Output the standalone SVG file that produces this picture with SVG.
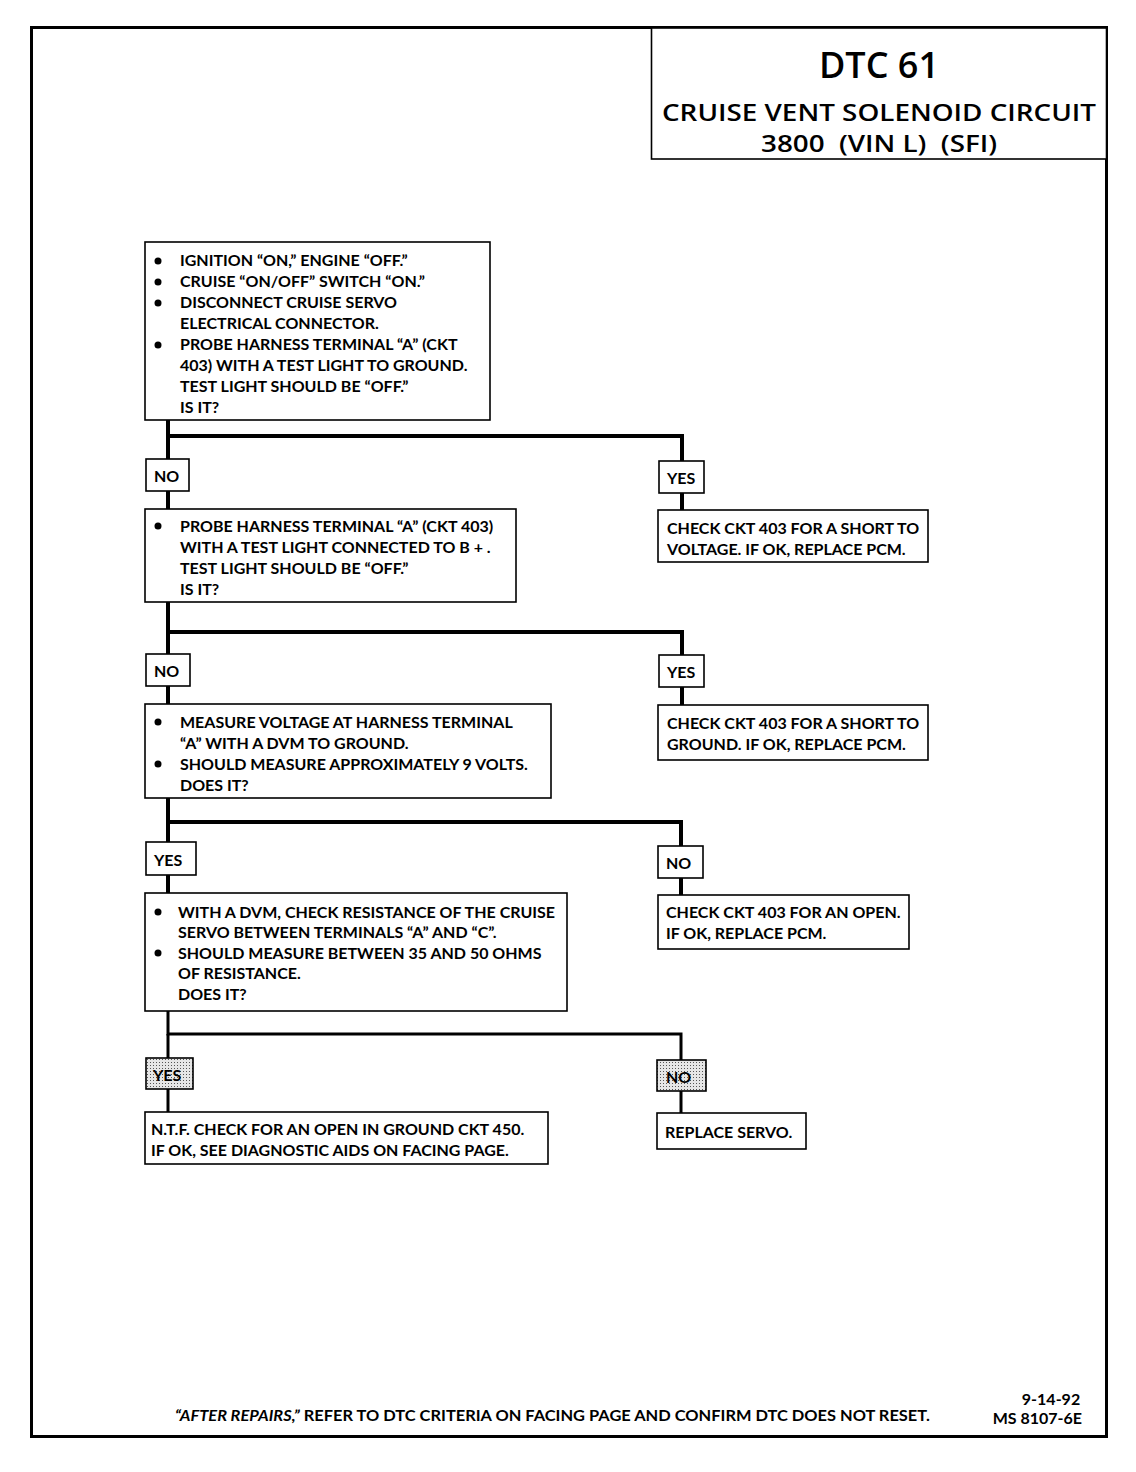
<svg xmlns="http://www.w3.org/2000/svg" width="1136" height="1472" viewBox="0 0 1136 1472" xml:space="preserve">
<style>
.box{fill:#fff;stroke:#000;stroke-width:1.6}
.lbl{fill:#fff;stroke:#000;stroke-width:1.6}
.sh{fill:url(#dots);stroke:#000;stroke-width:1.6}
.t{font-family:Lato,"Liberation Sans",sans-serif;font-weight:bold;font-size:16px;fill:#000;white-space:pre}
.tt{font-family:"Open Sans","Liberation Sans",sans-serif;font-weight:600;fill:#000;text-anchor:middle;white-space:pre}
.c{fill:none;stroke:#000;stroke-width:4}
.c2{fill:none;stroke:#000;stroke-width:3}
</style>
<defs>
<pattern id="dots" width="3" height="3" patternUnits="userSpaceOnUse">
<rect width="3" height="3" fill="#e6e6e6"/>
<rect width="1" height="1" fill="#555"/>
</pattern>
</defs>
<rect width="1136" height="1472" fill="#fff"/>
<rect x="31.5" y="27.5" width="1075" height="1409" fill="none" stroke="#000" stroke-width="3"/>

<g id="title">
<rect x="651.5" y="28" width="455" height="131" fill="#fff" stroke="#000" stroke-width="1.6"/>
<text class="tt" x="879" y="78" font-size="36" font-weight="bold">DTC 61</text>
<text class="tt" x="879" y="121" font-size="24" textLength="434" lengthAdjust="spacingAndGlyphs">CRUISE VENT SOLENOID CIRCUIT</text>
<text class="tt" x="879" y="152" font-size="24" textLength="236" lengthAdjust="spacingAndGlyphs">3800  (VIN L)  (SFI)</text>
</g>

<g id="connectors">
<polyline class="c" points="168,420 168,436 682,436 682,461"/>
<line class="c" x1="168" y1="436" x2="168" y2="459"/>
<line class="c" x1="168" y1="491" x2="168" y2="509"/>
<line class="c" x1="682" y1="493" x2="682" y2="510"/>
<polyline class="c" points="168,602 168,632 682,632 682,655"/>
<line class="c" x1="168" y1="632" x2="168" y2="654"/>
<line class="c" x1="168" y1="686" x2="168" y2="704"/>
<line class="c" x1="682" y1="687" x2="682" y2="705"/>
<polyline class="c" points="168,798 168,822 681,822 681,846"/>
<line class="c" x1="168" y1="822" x2="168" y2="842"/>
<line class="c" x1="168" y1="875" x2="168" y2="893"/>
<line class="c" x1="681" y1="878" x2="681" y2="895"/>
<polyline class="c2" points="168,1011 168,1034 681,1034 681,1060"/>
<line class="c2" x1="168" y1="1034" x2="168" y2="1058"/>
<line class="c2" x1="168" y1="1089" x2="168" y2="1112"/>
<line class="c2" x1="681" y1="1091" x2="681" y2="1113"/>
</g>

<g id="step1">
<rect class="box" x="145" y="242" width="345" height="178"/>
<g class="t">
<circle cx="158" cy="261" r="3.5"/><text x="180" y="266">IGNITION “ON,” ENGINE “OFF.”</text>
<circle cx="158" cy="282" r="3.5"/><text x="180" y="287">CRUISE “ON/OFF” SWITCH “ON.”</text>
<circle cx="158" cy="303" r="3.5"/><text x="180" y="308">DISCONNECT CRUISE SERVO</text>
<text x="180" y="329">ELECTRICAL CONNECTOR.</text>
<circle cx="158" cy="345" r="3.5"/><text x="180" y="350">PROBE HARNESS TERMINAL “A” (CKT</text>
<text x="180" y="371">403) WITH A TEST LIGHT TO GROUND.</text>
<text x="180" y="392">TEST LIGHT SHOULD BE “OFF.”</text>
<text x="180" y="413">IS IT?</text>
</g>
</g>

<g id="no1"><rect class="lbl" x="146" y="459" width="43" height="32"/><text class="t" x="154" y="482">NO</text></g>
<g id="yes1"><rect class="lbl" x="659" y="461" width="45" height="32"/><text class="t" x="667" y="484">YES</text></g>

<g id="step2">
<rect class="box" x="145" y="509" width="371" height="93"/>
<g class="t">
<circle cx="158" cy="526" r="3.5"/><text x="180" y="532">PROBE HARNESS TERMINAL “A” (CKT 403)</text>
<text x="180" y="553">WITH A TEST  LIGHT CONNECTED TO B + .</text>
<text x="180" y="574">TEST LIGHT SHOULD BE “OFF.”</text>
<text x="180" y="595">IS IT?</text>
</g>
</g>

<g id="result1">
<rect class="box" x="658" y="510" width="270" height="52"/>
<g class="t"><text x="667" y="534">CHECK CKT 403 FOR A SHORT TO</text>
<text x="667" y="555">VOLTAGE.  IF OK, REPLACE PCM.</text></g>
</g>

<g id="no2"><rect class="lbl" x="146" y="654" width="44" height="32"/><text class="t" x="154" y="677">NO</text></g>
<g id="yes2"><rect class="lbl" x="659" y="655" width="45" height="32"/><text class="t" x="667" y="678">YES</text></g>

<g id="step3">
<rect class="box" x="145" y="704" width="406" height="94"/>
<g class="t">
<circle cx="158" cy="722" r="3.5"/><text x="180" y="728">MEASURE VOLTAGE AT HARNESS TERMINAL</text>
<text x="180" y="749">“A” WITH A DVM TO GROUND.</text>
<circle cx="158" cy="764" r="3.5"/><text x="180" y="770">SHOULD MEASURE APPROXIMATELY 9 VOLTS.</text>
<text x="180" y="791">DOES IT?</text>
</g>
</g>

<g id="result2">
<rect class="box" x="658" y="705" width="270" height="55"/>
<g class="t"><text x="667" y="729">CHECK CKT 403 FOR A SHORT TO</text>
<text x="667" y="750">GROUND.  IF OK, REPLACE PCM.</text></g>
</g>

<g id="yes3"><rect class="lbl" x="146" y="842" width="50" height="33"/><text class="t" x="154" y="866">YES</text></g>
<g id="no3"><rect class="lbl" x="658" y="846" width="45" height="32"/><text class="t" x="666" y="869">NO</text></g>

<g id="step4">
<rect class="box" x="145" y="893" width="422" height="118"/>
<g class="t">
<circle cx="158" cy="912" r="3.5"/><text x="178" y="918">WITH A DVM, CHECK RESISTANCE OF THE CRUISE</text>
<text x="178" y="938">SERVO BETWEEN TERMINALS “A” AND “C”.</text>
<circle cx="158" cy="953" r="3.5"/><text x="178" y="959">SHOULD MEASURE BETWEEN 35 AND 50 OHMS</text>
<text x="178" y="979">OF RESISTANCE.</text>
<text x="178" y="1000">DOES IT?</text>
</g>
</g>

<g id="result3">
<rect class="box" x="658" y="895" width="251" height="54"/>
<g class="t"><text x="666" y="918">CHECK CKT 403 FOR AN OPEN.</text>
<text x="666" y="939">IF OK, REPLACE PCM.</text></g>
</g>

<g id="yes4"><rect class="sh" x="146" y="1058" width="47" height="31"/><text class="t" x="153" y="1081">YES</text></g>
<g id="no4"><rect class="sh" x="657" y="1060" width="49" height="31"/><text class="t" x="666" y="1083">NO</text></g>

<g id="result4">
<rect class="box" x="145" y="1112" width="403" height="52"/>
<g class="t"><text x="151" y="1135">N.T.F.  CHECK FOR AN OPEN IN GROUND CKT 450.</text>
<text x="151" y="1156">IF OK, SEE DIAGNOSTIC AIDS ON FACING PAGE.</text></g>
</g>

<g id="result5">
<rect class="box" x="657" y="1113" width="149" height="36"/>
<text class="t" x="665" y="1138">REPLACE SERVO.</text>
</g>

<g id="footer">
<text class="t" x="175" y="1421" font-size="15" textLength="755" lengthAdjust="spacingAndGlyphs"><tspan font-style="italic">“AFTER REPAIRS,”</tspan> REFER TO DTC CRITERIA ON FACING PAGE AND CONFIRM DTC DOES NOT RESET.</text>
<text class="t" x="1051" y="1405" font-size="12" text-anchor="middle">9-14-92</text>
<text class="t" x="1082" y="1424" font-size="12" text-anchor="end">MS 8107-6E</text>
</g>
</svg>
